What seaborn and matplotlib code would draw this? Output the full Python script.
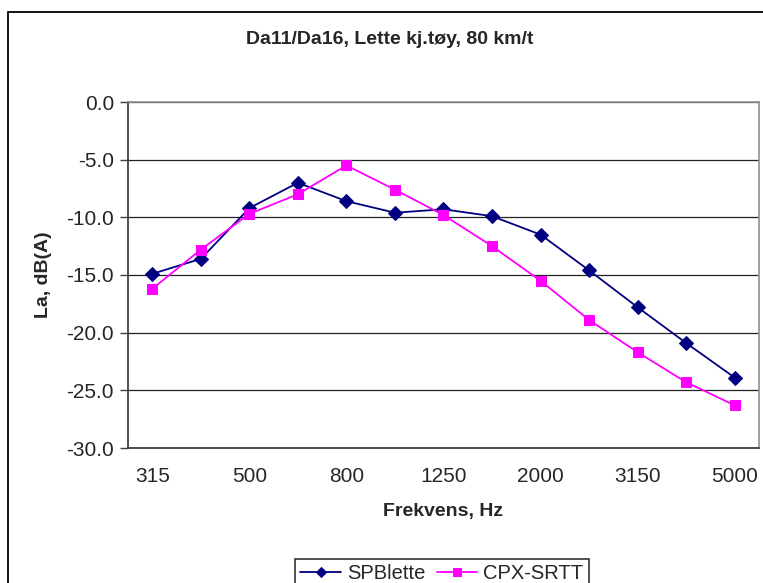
import numpy as np
import pandas as pd
import matplotlib
matplotlib.use('Agg')
import matplotlib.pyplot as plt
import matplotlib.patches as patches
import seaborn as sns

# Data
frequencies = ['315', '400', '500', '630', '800', '1000', '1250',
               '1600', '2000', '2500', '3150', '4000', '5000']
spblette = [-14.9, -13.6, -9.2, -7.0, -8.6, -9.6, -9.3,
            -9.9, -11.5, -14.6, -17.8, -20.9, -23.9]
cpx_srtt = [-16.2, -12.8, -9.7, -8.0, -5.5, -7.6, -9.8,
            -12.5, -15.5, -18.9, -21.7, -24.3, -26.3]
y_ticks = [0, -5, -10, -15, -20, -25, -30]

sns.set_style('white')
plt.rcParams['font.family'] = ['Liberation Sans', 'DejaVu Sans']

df = pd.DataFrame({'Frekvens': frequencies, 'SPBlette': spblette, 'CPX-SRTT': cpx_srtt})

fig = plt.figure(figsize=(7.63, 5.83), dpi=100)
ax = fig.add_axes([128/763, 1 - 448/583, (759-128)/763, (448-102)/583])

sns.lineplot(data=df, x='Frekvens', y='SPBlette', ax=ax, color='#000080',
             marker='D', markersize=7, markeredgecolor='#000080', lw=1.3,
             label='SPBlette', legend=False)
sns.lineplot(data=df, x='Frekvens', y='CPX-SRTT', ax=ax, color='#FF00FF',
             marker='s', markersize=7.5, markeredgecolor='#FF00FF', lw=1.3,
             label='CPX-SRTT', legend=False)

ax.set_xlim(-0.5, len(frequencies) - 0.5)
ax.set_ylim(-30, 0)
ax.set_yticks(y_ticks)
ax.set_yticklabels([f'{v:.1f}' for v in y_ticks], fontsize=15)
ax.yaxis.grid(True, color='#222222', lw=0.9)
ax.set_axisbelow(True)

# labels on every other category, ticks on category boundaries
pos = np.arange(len(frequencies))
ax.set_xticks(pos[::2])
ax.set_xticklabels(frequencies[::2], fontsize=15)
ax.set_xticks(np.arange(-0.5, len(frequencies)), minor=True)
ax.tick_params(axis='x', which='major', length=0, pad=14)
ax.tick_params(axis='x', which='minor', length=6, width=1, color='#404040', direction='out')
ax.tick_params(axis='y', length=6, width=1, color='#404040', direction='out', left=True, pad=4)

for s in ['left', 'bottom']:
    ax.spines[s].set_color('#404040')
    ax.spines[s].set_linewidth(1.3)
for s in ['top', 'right']:
    ax.spines[s].set_color('#909090')
    ax.spines[s].set_linewidth(1.2)

ax.set_xlabel('Frekvens, Hz', fontsize=14, fontweight='bold', labelpad=12)
ax.set_ylabel('La, dB(A)', fontsize=14, fontweight='bold', labelpad=10)

fig.text(390/763, 1 - 40/583, 'Da11/Da16, Lette kj.tøy, 80 km/t',
         ha='center', va='center', fontsize=14, fontweight='bold')

handles, labels = ax.get_legend_handles_labels()
leg = fig.legend(handles, labels, loc='upper center', bbox_to_anchor=(442/763, 1 - 549/583),
                 ncol=2, fontsize=14.5, frameon=True, fancybox=False, edgecolor='black',
                 handlelength=2.0, handletextpad=0.3, columnspacing=0.6, borderpad=0.25,
                 markerscale=0.75)
leg.get_frame().set_linewidth(1.2)

fig.add_artist(patches.Rectangle((8/763, -0.1), 1.2, (583-12)/583 + 0.1,
                                 transform=fig.transFigure, fill=False,
                                 edgecolor='black', lw=1.3))

fig.savefig('out.png', dpi=100)
